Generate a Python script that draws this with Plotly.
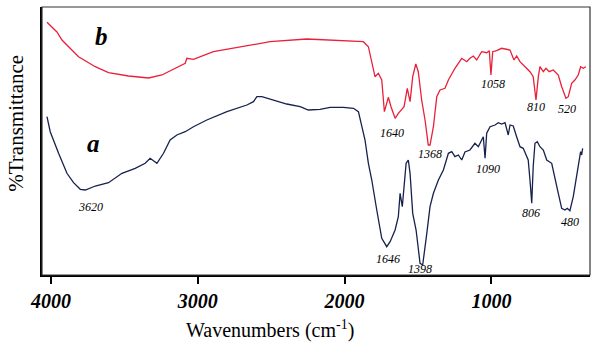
import plotly.graph_objects as go

# Spectrum b (red, upper)
wn_b = [4028, 3960, 3926, 3813, 3699, 3609, 3472, 3336, 3245, 3154, 3086, 3075, 3030, 2894, 2712,
        2508, 2258, 2099, 1872, 1838, 1815, 1793, 1770, 1747, 1729, 1702, 1684, 1656, 1634, 1595,
        1573, 1554, 1536, 1515, 1498, 1475, 1452, 1430, 1418, 1395, 1372, 1350, 1316, 1293, 1248,
        1202, 1168, 1146, 1123, 1100, 1066, 1032, 1014, 1003, 991, 964, 930, 873, 855, 846,
        828, 805, 771, 737, 715, 696, 680, 669, 646, 628, 606, 578, 544, 521, 492,
        476, 453, 431, 408, 392, 374, 356]
t_b = [252.7, 243, 235, 218.3, 208.3, 202.3, 199, 197, 200, 206.7, 211.7, 216.7, 215.7, 223.3, 228.3,
       233.3, 236, 235, 233.3, 228.3, 211.7, 198.3, 201.7, 195, 163.3, 177.7, 168.3, 156.7, 161.7, 168.3,
       186.7, 173.3, 198.3, 211, 203.3, 175, 155, 130, 130, 148.3, 178.3, 185, 186.7, 195, 206.7,
       216.7, 213.3, 216.7, 219, 215, 223.3, 222.3, 224.3, 200, 223.3, 224.3, 226.7, 225, 218.3, 215,
       219, 213.3, 208.3, 203.3, 198.3, 175, 198.3, 208.3, 203.3, 206.7, 203.3, 205, 200, 188.3, 176.7,
       178.3, 191.7, 195, 200, 208.3, 206.7, 208.3]

# Spectrum a (navy, lower)
wn_a = [4028, 4017, 4006, 3949, 3892, 3847, 3801, 3767, 3699, 3609, 3517, 3427, 3359, 3325, 3279,
        3234, 3189, 3143, 3086, 3030, 2939, 2802, 2666, 2621, 2598, 2564, 2508, 2394, 2303, 2247,
        2167, 2099, 2008, 1940, 1906, 1883, 1861, 1838, 1815, 1781, 1747, 1713, 1690, 1656, 1634,
        1622, 1607, 1595, 1581, 1566, 1554, 1536, 1513, 1486, 1468, 1440, 1418, 1395, 1361, 1327,
        1293, 1270, 1248, 1225, 1202, 1180, 1146, 1112, 1089, 1066, 1055, 1043, 1032, 1009, 975,
        953, 930, 907, 885, 873, 851, 828, 805, 783, 759, 749, 737, 725, 715, 703,
        687, 669, 646, 623, 589, 567, 544, 521, 499, 483, 465, 442, 419, 401, 392,
        385, 378]
t_a = [158.3, 151.7, 143.3, 121.7, 101.7, 92.3, 85.7, 85, 89, 92.3, 101.7, 106.7, 111.7, 116.7, 111.7,
       121.7, 135, 140, 143.3, 148.3, 155, 163.3, 170, 173.3, 178.3, 178.3, 175.7, 171, 168.3, 165,
       165.7, 167.7, 167.7, 166.7, 163.3, 148.3, 135, 111.7, 95, 65, 36.7, 28.3, 33.3, 45, 58.3,
       81.7, 68.3, 88.3, 111.7, 115, 101.7, 61.7, 45, 11.7, 10, 41.7, 68.3, 81.7, 95, 105,
       121.7, 123.3, 118.3, 120, 115, 123, 125, 131.7, 128.3, 135, 138.3, 116.7, 141.7, 148.3, 150,
       152.3, 151, 152.3, 140, 150, 149, 138.3, 128.3, 126.7, 118.3, 115, 95, 71.7, 108.3, 131.7,
       133.3, 128.3, 125, 115, 111.7, 98.3, 81.7, 66.7, 65, 66.7, 64.3, 78.3, 98.3, 115, 123.3,
       120, 126.7]

tick_vals = [4000, 3000, 2000, 1000]
tick_text = ["4000", "3000", "2000", "1000"]

peak_labels = ["3620", "1640", "1368", "1646", "1398", "1058", "810", "520", "1090", "806", "480"]
peak_x = [3733, 1679, 1418, 1702, 1486, 991, 696, 487, 1021, 730, 465]
peak_y = [68.3, 142.3, 121, 15.7, 5.7, 191, 167.7, 165.7, 105.7, 61.7, 53.3]

SERIF = "'Liberation Serif', 'Times New Roman', Times, serif"

fig = go.Figure()
fig.add_trace(go.Scatter(x=wn_b, y=t_b, mode="lines", line=dict(color="#e8203a", width=1.3),
                         showlegend=False, hoverinfo="skip"))
fig.add_trace(go.Scatter(x=wn_a, y=t_a, mode="lines", line=dict(color="#17214d", width=1.3),
                         showlegend=False, hoverinfo="skip"))

annotations = []
for lab, px, py in zip(peak_labels, peak_x, peak_y):
    annotations.append(dict(x=px, y=py, xref="x", yref="y", text=lab, showarrow=False,
                            font=dict(family=SERIF, size=12, color="black", style="italic")))
annotations.append(dict(x=3654, y=238.3, xref="x", yref="y", text="b", showarrow=False,
                        font=dict(family=SERIF, size=25, color="black", style="italic", weight="bold")))
annotations.append(dict(x=3711, y=131.7, xref="x", yref="y", text="a", showarrow=False,
                        font=dict(family=SERIF, size=25, color="black", style="italic", weight="bold")))
annotations.append(dict(x=0.416, y=-0.205, xref="paper", yref="paper",
                        text="Wavenumbers (cm<sup>-1</sup>)", showarrow=False,
                        xanchor="center", yanchor="middle",
                        font=dict(family=SERIF, size=20, color="black")))
annotations.append(dict(x=-0.048, y=0.567, xref="paper", yref="paper",
                        text="%Transmittance", showarrow=False, textangle=-90,
                        xanchor="center", yanchor="middle",
                        font=dict(family=SERIF, size=21, color="black")))

fig.update_layout(
    width=599, height=347,
    margin=dict(l=42, r=9, t=7, b=72),
    paper_bgcolor="white", plot_bgcolor="white",
    font=dict(family=SERIF),
    annotations=annotations,
    shapes=[dict(type="rect", xref="paper", yref="paper", x0=0, y0=0, x1=1, y1=1,
                 line=dict(color="#333333", width=1.2))],
    xaxis=dict(range=[4062, 328], tickvals=tick_vals, ticktext=tick_text,
               ticks="outside", ticklen=7, tickwidth=1.5, tickcolor="black",
               showline=True, linewidth=2, linecolor="black", showgrid=False, zeroline=False,
               tickfont=dict(family=SERIF, size=20, color="black", style="italic", weight="bold")),
    yaxis=dict(range=[0, 268], showticklabels=False, ticks="", showline=True, linewidth=2,
               linecolor="black", showgrid=False, zeroline=False),
)

fig.write_html("out.html")
